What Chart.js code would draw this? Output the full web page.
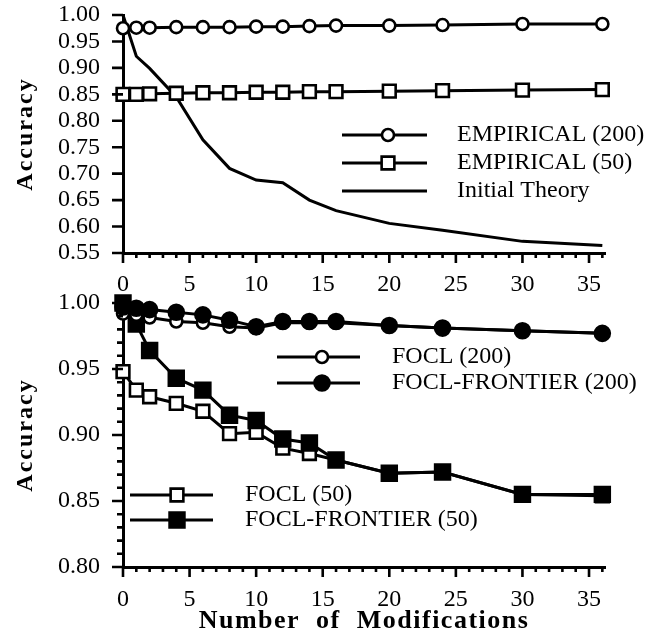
<!DOCTYPE html>
<html>
<head>
<meta charset="utf-8">
<script src="https://cdn.jsdelivr.net/npm/chart.js@4.4.1/dist/chart.umd.min.js"></script>
<style>
  html, body { margin: 0; padding: 0; background: #fff; overflow: hidden; }
  #wrap { position: relative; width: 656px; height: 634px; }
  canvas { position: absolute; left: 0; }
  #top-chart { top: 0; }
  #bottom-chart { top: 288px; }
</style>
</head>
<body>
<div id="wrap">
  <canvas id="top-chart" width="656" height="300"></canvas>
  <canvas id="bottom-chart" width="656" height="346"></canvas>
</div>
<script>
// x values (number of modifications) shared by every series
const modifications = [0, 1, 2, 4, 6, 8, 10, 12, 14, 16, 20, 24, 30, 36];

// top panel
const empirical200 = [0.975, 0.976, 0.976, 0.977, 0.977, 0.977, 0.978, 0.978, 0.979, 0.980, 0.980, 0.981, 0.983, 0.983];
const empirical50 = [0.850, 0.850, 0.851, 0.852, 0.853, 0.853, 0.854, 0.854, 0.855, 0.855, 0.856, 0.857, 0.858, 0.859];
const initialTheory = [1.000, 0.922, 0.899, 0.845, 0.764, 0.710, 0.688, 0.683, 0.650, 0.630, 0.606, 0.593, 0.572, 0.564];

// bottom panel
const focl200 = [0.992, 0.991, 0.989, 0.986, 0.985, 0.982, 0.981, 0.985, 0.985, 0.985, 0.983, 0.981, 0.979, 0.977];
const frontier200 = [0.997, 0.996, 0.995, 0.993, 0.991, 0.987, 0.982, 0.986, 0.986, 0.986, 0.983, 0.981, 0.979, 0.977];
const focl50 = [0.948, 0.934, 0.929, 0.924, 0.918, 0.901, 0.902, 0.890, 0.886, 0.881, 0.871, 0.872, 0.855, 0.854];
const frontier50 = [1.000, 0.984, 0.964, 0.943, 0.934, 0.915, 0.911, 0.897, 0.894, 0.881, 0.871, 0.872, 0.855, 0.855];

// ticks
const xTicks = [0, 5, 10, 15, 20, 25, 30, 35];
const topYTicks = [0.55, 0.60, 0.65, 0.70, 0.75, 0.80, 0.85, 0.90, 0.95, 1.00];
const bottomYTicks = [0.80, 0.85, 0.90, 0.95, 1.00];

const FONT = "'Liberation Serif', 'Times New Roman', serif";

function pts(arr) {
  return modifications.map((x, i) => ({ x: x, y: arr[i] }));
}

function series(label, arr, style, filled, radius, order) {
  return {
    label: label,
    data: pts(arr),
    borderColor: "#000",
    borderWidth: 3,
    backgroundColor: filled ? "#000" : "#fff",
    pointStyle: style,
    pointRadius: radius,
    pointBorderWidth: 2.6,
    pointBackgroundColor: filled ? "#000" : "#fff",
    pointBorderColor: "#000",
    tension: 0,
    clip: false,
    order: order
  };
}

// minor / major tick marks drawn on the library's scales
const tickMarks = {
  id: "tickMarks",
  afterDraw(chart, args, opts) {
    const ctx = chart.ctx;
    const xs = chart.scales.x, ys = chart.scales.y;
    const area = chart.chartArea;
    ctx.save();
    ctx.strokeStyle = "#000";
    ctx.lineWidth = 2.6;
    ctx.beginPath();
    for (let v = 0; v <= opts.xMax + 1e-9; v += 1) {
      const px = xs.getPixelForValue(v);
      const len = v % 5 === 0 ? 10 : 5;
      ctx.moveTo(px, area.bottom);
      ctx.lineTo(px, area.bottom + len);
    }
    const yMin = ys.min, yMax = ys.max;
    const steps = Math.round((yMax - yMin) / opts.yStep);
    for (let i = 0; i <= steps; i++) {
      const v = yMin + i * opts.yStep;
      const py = ys.getPixelForValue(v);
      const major = Math.abs(v / 0.05 - Math.round(v / 0.05)) < 1e-6;
      const len = major ? 11 : 6;
      ctx.moveTo(area.left, py);
      ctx.lineTo(area.left - len, py);
    }
    ctx.stroke();
    ctx.restore();
  }
};

// legend entries drawn as a line with the marker on it
const lineLegend = {
  id: "lineLegend",
  afterDatasetsDraw(chart, args, opts) {
    const ctx = chart.ctx;
    ctx.save();
    opts.items.forEach(item => {
      const ds = chart.data.datasets[item.index];
      ctx.strokeStyle = ds.borderColor;
      ctx.lineWidth = ds.borderWidth;
      ctx.beginPath();
      ctx.moveTo(item.x1, item.y);
      ctx.lineTo(item.x2, item.y);
      ctx.stroke();
      if (ds.pointRadius > 0) {
        ctx.fillStyle = ds.pointBackgroundColor;
        ctx.strokeStyle = ds.pointBorderColor;
        ctx.lineWidth = ds.pointBorderWidth;
        Chart.helpers.drawPoint(ctx, {
          pointStyle: ds.pointStyle, radius: ds.pointRadius, rotation: 0, borderWidth: ds.pointBorderWidth
        }, item.mx, item.y);
      }
      ctx.fillStyle = "#000";
      ctx.font = "24px " + FONT;
      ctx.textAlign = "left";
      ctx.textBaseline = "middle";
      ctx.fillText(ds.label, item.tx, item.y);
    });
    ctx.restore();
  }
};

// letter spacing for the axis titles
const spacedTitle = {
  id: "spacedTitle",
  beforeDraw(chart, args, opts) {
    Object.values(chart.scales).forEach(s => {
      if (s._spacedPatched) return;
      const orig = s.drawTitle;
      const sp = opts[s.id] || "0px";
      s.drawTitle = function () {
        this.ctx.letterSpacing = sp;
        orig.call(this);
        this.ctx.letterSpacing = "0px";
      };
      s._spacedPatched = true;
    });
  }
};

function noPad(s) {
  s.paddingTop = 0;
  s.paddingBottom = 0;
  s.paddingLeft = 0;
  s.paddingRight = 0;
}

function makeOptions(cfg) {
  return {
    responsive: false,
    devicePixelRatio: 1,
    animation: false,
    layout: { padding: { top: 15, right: 51, bottom: 0, left: 0 } },
    plugins: {
      legend: { display: false },
      tooltip: { enabled: false },
      tickMarks: { xMax: 36, yStep: cfg.yStep },
      lineLegend: { items: cfg.legend },
      spacedTitle: { x: "1.5px", y: "2px" }
    },
    scales: {
      x: {
        type: "linear",
        min: 0,
        max: 36.2,
        afterBuildTicks: axis => { axis.ticks = xTicks.map(v => ({ value: v })); },
        afterFit: s => { s.height = cfg.xHeight; noPad(s); },
        grid: { display: false, drawTicks: false },
        border: { display: true, color: "#000", width: 3 },
        ticks: {
          color: "#000",
          padding: cfg.xPad,
          maxRotation: 0,
          autoSkip: false,
          font: { family: FONT, size: 24 },
          callback: v => String(v)
        },
        title: {
          display: cfg.xTitle,
          text: "Number  of  Modifications",
          color: "#000",
          font: { family: FONT, size: 26, weight: "bold", lineHeight: 1.0 },
          padding: { top: 0, bottom: 0 }
        }
      },
      y: {
        type: "linear",
        min: cfg.yTicks[0],
        max: cfg.yTicks[cfg.yTicks.length - 1],
        afterBuildTicks: axis => { axis.ticks = cfg.yTicks.map(v => ({ value: v })); },
        afterFit: s => { s.width = 123; noPad(s); },
        grid: { display: false, drawTicks: false },
        border: { display: true, color: "#000", width: 3 },
        ticks: {
          color: "#000",
          padding: 23,
          autoSkip: false,
          font: { family: FONT, size: 24 },
          callback: v => Number(v).toFixed(2)
        },
        title: {
          display: true,
          text: "Accuracy",
          color: "#000",
          font: { family: FONT, size: 24, weight: "bold" },
          padding: { top: 11, bottom: 0 }
        }
      }
    }
  };
}

new Chart(document.getElementById("top-chart"), {
  type: "line",
  data: {
    datasets: [
      series("EMPIRICAL (200)", empirical200, "circle", false, 6, 1),
      series("EMPIRICAL (50)", empirical50, "rect", false, 9, 2),
      series("Initial Theory", initialTheory, "circle", false, 0, 3)
    ]
  },
  options: makeOptions({
    yTicks: topYTicks,
    yStep: 0.05,
    xHeight: 47,
    xPad: 17,
    xTitle: false,
    legend: [
      { index: 0, x1: 342, x2: 427, mx: 388, y: 135, tx: 457 },
      { index: 1, x1: 342, x2: 427, mx: 388, y: 163, tx: 457 },
      { index: 2, x1: 342, x2: 427, mx: 388, y: 191, tx: 457 }
    ]
  }),
  plugins: [tickMarks, lineLegend, spacedTitle]
});

new Chart(document.getElementById("bottom-chart"), {
  type: "line",
  data: {
    datasets: [
      series("FOCL (200)", focl200, "circle", false, 6, 2),
      series("FOCL-FRONTIER (200)", frontier200, "circle", true, 7.5, 1),
      series("FOCL (50)", focl50, "rect", false, 9, 4),
      series("FOCL-FRONTIER (50)", frontier50, "rect", true, 10.5, 3)
    ]
  },
  options: makeOptions({
    yTicks: bottomYTicks,
    yStep: 0.01,
    xHeight: 67,
    xPad: 18.5,
    xTitle: true,
    legend: [
      { index: 0, x1: 277, x2: 360, mx: 322, y: 69, tx: 392 },
      { index: 1, x1: 277, x2: 360, mx: 322, y: 95, tx: 392 },
      { index: 2, x1: 130, x2: 213, mx: 177, y: 207, tx: 245 },
      { index: 3, x1: 130, x2: 213, mx: 177, y: 232, tx: 245 }
    ]
  }),
  plugins: [tickMarks, lineLegend, spacedTitle]
});
</script>
</body>
</html>
